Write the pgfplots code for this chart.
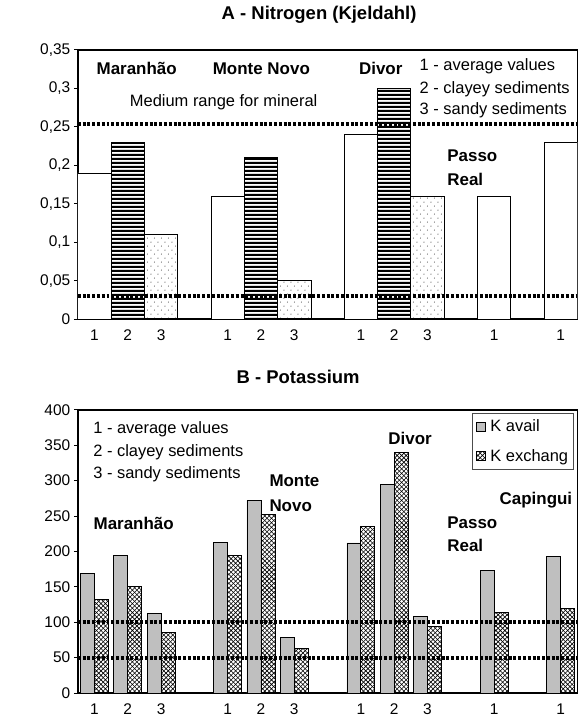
\documentclass[border=0pt]{standalone}
\usepackage{fontspec}
\setmainfont{Liberation Sans}
\usepackage{pgfplots}
\pgfplotsset{compat=1.18}
\usetikzlibrary{patterns}

\pgfdeclarepatternformonly{hstripes}{\pgfpointorigin}{\pgfqpoint{10bp}{3.7bp}}{\pgfqpoint{10bp}{3.7bp}}{%
  \pgfpathrectangle{\pgfpointorigin}{\pgfqpoint{10bp}{2.2bp}}\pgfusepath{fill}}
\pgfdeclarepatternformonly{sdots}{\pgfpointorigin}{\pgfqpoint{7bp}{8bp}}{\pgfqpoint{7bp}{8bp}}{%
  \pgfpathcircle{\pgfqpoint{1.5bp}{2bp}}{0.5bp}\pgfpathcircle{\pgfqpoint{5bp}{6bp}}{0.5bp}\pgfusepath{fill}}
\pgfdeclarepatternformonly{xhatch}{\pgfqpoint{-0.5bp}{-0.5bp}}{\pgfqpoint{5bp}{5bp}}{\pgfqpoint{4.5bp}{4.5bp}}{%
  \pgfsetlinewidth{0.6bp}%
  \pgfpathmoveto{\pgfqpoint{0bp}{0bp}}\pgfpathlineto{\pgfqpoint{4.5bp}{4.5bp}}%
  \pgfpathmoveto{\pgfqpoint{0bp}{4.5bp}}\pgfpathlineto{\pgfqpoint{4.5bp}{0bp}}\pgfusepath{stroke}}

\newcommand{\tickfont}{\fontsize{15.5bp}{18bp}\selectfont}
\newcommand{\txtfont}{\fontsize{16.5bp}{19bp}\selectfont}
\newcommand{\bfont}{\fontsize{17bp}{20bp}\selectfont\bfseries}
\newcommand{\titfont}{\fontsize{18.5bp}{21bp}\selectfont\bfseries}

\pgfplotsset{
  myax/.style={
    scale only axis, width=501bp,
    xmin=-0.5, xmax=14.5, ymin=0,
    axis line style={line width=1.6bp, black},
    tick style={line width=0.8bp, black},
    major tick length=4bp, tick align=outside,
    ytick pos=left, xtick style={draw=none},
    xtick={0,1,2,4,5,6,8,9,10,12,14},
    xticklabels={1,2,3,1,2,3,1,2,3,1,1},
    tick label style={font=\tickfont},
    /pgf/number format/assume math mode=true,
    xticklabel style={yshift=-3bp},
  },
  dotline/.style={black, line width=4bp, dash pattern=on 3bp off 1.8bp, forget plot},
}

\begin{document}
\begin{tikzpicture}
% ---------------- Panel B ----------------
\begin{axis}[myax, at={(0,0)}, anchor=south west, height=284bp,
  ymax=400, ytick={0,50,100,150,200,250,300,350,400},
  title={B - Potassium},
  title style={font=\titfont, at={(0.441,1)}, anchor=center, yshift=27bp},
  legend style={at={(0.992,0.99)}, anchor=north east, draw=black!70, line width=0.6bp,
    font=\txtfont, row sep=12bp, inner xsep=3bp, inner ysep=5bp},
  legend cell align=left,
  legend image code/.code={\draw[#1, line width=0.8bp] (0bp,-4.5bp) rectangle (9bp,4.5bp);},
]
\addplot[ybar, bar width=0.42, bar shift=-0.21, fill=black!25, draw=black, line width=0.8bp]
  coordinates {(0,169) (1,195) (2,112) (4,213) (5,272) (6,79) (8,212) (9,295) (10,108) (12,173) (14,193)};
\addplot[ybar, bar width=0.42, bar shift=0.21, pattern=xhatch, draw=black, line width=0.8bp]
  coordinates {(0,132) (1,151) (2,85) (4,195) (5,252) (6,63) (8,235) (9,340) (10,94) (12,114) (14,119)};
\legend{\hspace{3bp}K avail, \hspace{3bp}K exchang}
\addplot[dotline] coordinates {(-0.5,100) (14.5,100)};
\addplot[dotline] coordinates {(-0.5,50) (14.5,50)};
\node[anchor=west, font=\txtfont, inner sep=0] at (axis cs:-0.04,372.6) {1 - average values};
\node[anchor=west, font=\txtfont, inner sep=0] at (axis cs:-0.04,340.8) {2 - clayey sediments};
\node[anchor=west, font=\txtfont, inner sep=0] at (axis cs:-0.04,308.8) {3 - sandy sediments};
\node[anchor=west, font=\bfont, inner sep=0] at (axis cs:-0.03,240) {Maranhão};
\node[anchor=west, font=\bfont, inner sep=0] at (axis cs:5.25,300) {Monte};
\node[anchor=west, font=\bfont, inner sep=0] at (axis cs:5.25,264) {Novo};
\node[anchor=west, font=\bfont, inner sep=0] at (axis cs:8.82,359.5) {Divor};
\node[anchor=west, font=\bfont, inner sep=0] at (axis cs:10.59,240) {Passo};
\node[anchor=west, font=\bfont, inner sep=0] at (axis cs:10.59,209) {Real};
\node[anchor=west, font=\bfont, inner sep=0] at (axis cs:12.16,272.6) {Capingui};
\node[rotate=90, font=\txtfont] at (rel axis cs:-0.0998,0.476) {(ppm)};
\end{axis}
% ---------------- Panel A ----------------
\begin{axis}[myax, at={(0,375bp)}, anchor=south west, height=270bp,
  ymax=0.35, ytick={0,0.05,0.1,0.15,0.2,0.25,0.3,0.35},
  yticklabels={0,{0,05},{0,1},{0,15},{0,2},{0,25},{0,3},{0,35}},
  title={A - Nitrogen (Kjeldahl)},
  title style={font=\titfont, at={(0.483,1)}, anchor=center, yshift=29bp},
]
\addplot[ybar, bar width=1, bar shift=0, fill=white, draw=black, line width=0.8bp]
  coordinates {(0,0.19) (4,0.16) (8,0.24) (12,0.16) (14,0.23)};
\addplot[ybar, bar width=1, bar shift=0, pattern=hstripes, draw=black, line width=0.8bp]
  coordinates {(1,0.23) (5,0.21) (9,0.30)};
\addplot[ybar, bar width=1, bar shift=0, pattern=sdots, draw=black, line width=0.8bp]
  coordinates {(2,0.11) (6,0.05) (10,0.16)};
\addplot[dotline] coordinates {(-0.5,0.253) (14.5,0.253)};
\addplot[dotline] coordinates {(-0.5,0.03) (14.5,0.03)};
\node[anchor=west, font=\bfont, inner sep=0] at (axis cs:0.06,0.326) {Maranhão};
\node[anchor=west, font=\bfont, inner sep=0] at (axis cs:3.55,0.326) {Monte Novo};
\node[anchor=west, font=\bfont, inner sep=0] at (axis cs:7.94,0.326) {Divor};
\node[anchor=west, font=\txtfont, inner sep=0] at (axis cs:1.06,0.2817) {Medium range for mineral};
\node[anchor=west, font=\txtfont, inner sep=0] at (axis cs:9.76,0.329) {1 - average values};
\node[anchor=west, font=\txtfont, inner sep=0] at (axis cs:9.76,0.299) {2 - clayey sediments};
\node[anchor=west, font=\txtfont, inner sep=0] at (axis cs:9.76,0.271) {3 - sandy sediments};
\node[anchor=west, font=\bfont, inner sep=0] at (axis cs:10.59,0.2124) {Passo};
\node[anchor=west, font=\bfont, inner sep=0] at (axis cs:10.59,0.182) {Real};
\node[rotate=90, font=\bfont] at (rel axis cs:-0.1118,0.43) {(\%)};
\end{axis}
\pgfresetboundingbox
\path[use as bounding box] (-78bp,-25bp) rectangle (503bp,695bp);
\end{tikzpicture}
\end{document}
